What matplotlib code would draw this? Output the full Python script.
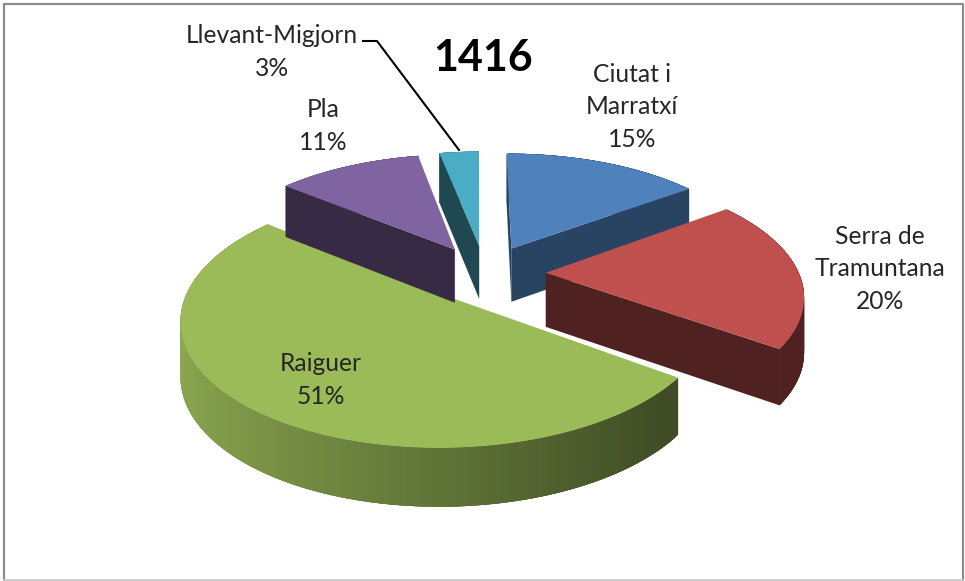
import matplotlib
matplotlib.use('Agg')
import matplotlib.pyplot as plt
from matplotlib.colors import to_rgb
from matplotlib.patches import Polygon
import numpy as np

plt.rcParams['font.family'] = ['Lato', 'DejaVu Sans']

categories = ['Ciutat i\nMarratxí', 'Serra de\nTramuntana', 'Raiguer', 'Pla', 'Llevant-Migjorn']
values = [15, 20, 51, 11, 3]
colors = ['#4f81bd', '#c0504d', '#9bbb59', '#8064a2', '#4bacc6']
side_dark = [0.52, 0.41, 0.41, 0.42, 0.42]
title = '1416'

# where each label goes, in pixels
label_x = [632, 880, 321, 323, 272]
label_y = [107, 269, 380, 126, 52]

# fake camera for the 3d look
cx, cy = 485, 273
ax_w, ax_h = 253, 118
persp = 0.165
persp_z = 0.07
depth = 54
explode = 0.24
rotation = -0.3


def project(x, y, z=0.0):
    s = 1.0 / (1.0 + persp * y)
    return cx + ax_w * x * s, cy - ax_h * y * s + depth * z / (1.0 + persp_z * y)


def shade(color, f):
    return tuple(c * f for c in to_rgb(color))


fig = plt.figure(figsize=(9.65, 5.81), dpi=100)
ax = fig.add_axes([0, 0, 1, 1])
ax.set_xlim(0, 965)
ax.set_ylim(581, 0)
ax.axis('off')

# angles clockwise from the top
fracs = np.array(values) / sum(values)
starts = np.concatenate([[0], np.cumsum(fracs)[:-1]]) * 2 * np.pi + np.radians(rotation)
spans = fracs * 2 * np.pi

# back slices first
for i in [4, 3, 0, 1, 2]:
    n = 300
    t = np.linspace(starts[i], starts[i] + spans[i], n)
    mid = starts[i] + spans[i] / 2
    ox, oy = explode * np.sin(mid), explode * np.cos(mid)
    x, y = ox + np.sin(t), oy + np.cos(t)

    # rim, darker to the right. pieces overlap so no seams show
    for k in range(n - 1):
        e = min(k + 4, n - 1)
        f = max(side_dark[i], 0.62 - 0.28 * np.sin(t[k]))
        p = [project(x[j], y[j]) for j in range(k, e + 1)]
        p += [project(x[j], y[j], 1) for j in range(e, k - 1, -1)]
        ax.add_patch(Polygon(p, fc=shade(colors[i], f), ec='none', zorder=i))

    # flat cut faces, only the ones turned to the viewer
    p0 = np.array(project(ox, oy))
    inside = np.array(project(ox + 0.5 * np.sin(mid), oy + 0.5 * np.cos(mid))) - p0
    for a in [t[0], t[-1]]:
        p1 = np.array(project(ox + np.sin(a), oy + np.cos(a)))
        d = p1 - p0
        # y axis points down here, so "below the edge" is +y
        if (d[0] * inside[1] - d[1] * inside[0]) * d[0] < 0:
            p = [p0, p1, project(ox + np.sin(a), oy + np.cos(a), 1), project(ox, oy, 1)]
            ax.add_patch(Polygon(p, fc=shade(colors[i], side_dark[i]), ec='none', zorder=i))

    # top
    px, py = project(np.r_[ox, x], np.r_[oy, y])
    ax.add_patch(Polygon(np.c_[px, py], fc=colors[i], ec='none', zorder=i))

for name, v, lx, ly in zip(categories, values, label_x, label_y):
    ax.text(lx, ly, f'{name}\n{v}%', ha='center', va='center', fontsize=17.7,
            color='#262626', linespacing=1.52, zorder=20)

ax.text(483, 58, title, ha='center', va='center', fontsize=31, fontweight='bold',
        color='black', zorder=20)

# leader line for the small slice
ax.plot([363, 377, 459], [41, 41, 150], color='black', lw=1.5, zorder=15)

# outer frame, the bottom edge is paler
ax.plot([4, 4, 963, 963], [580, 4, 4, 580], color='#8c8c8c', lw=1.6, zorder=30)
ax.plot([4, 963], [580, 580], color='#c8c8c8', lw=1.2, zorder=30)

fig.savefig('out.png', dpi=100)
